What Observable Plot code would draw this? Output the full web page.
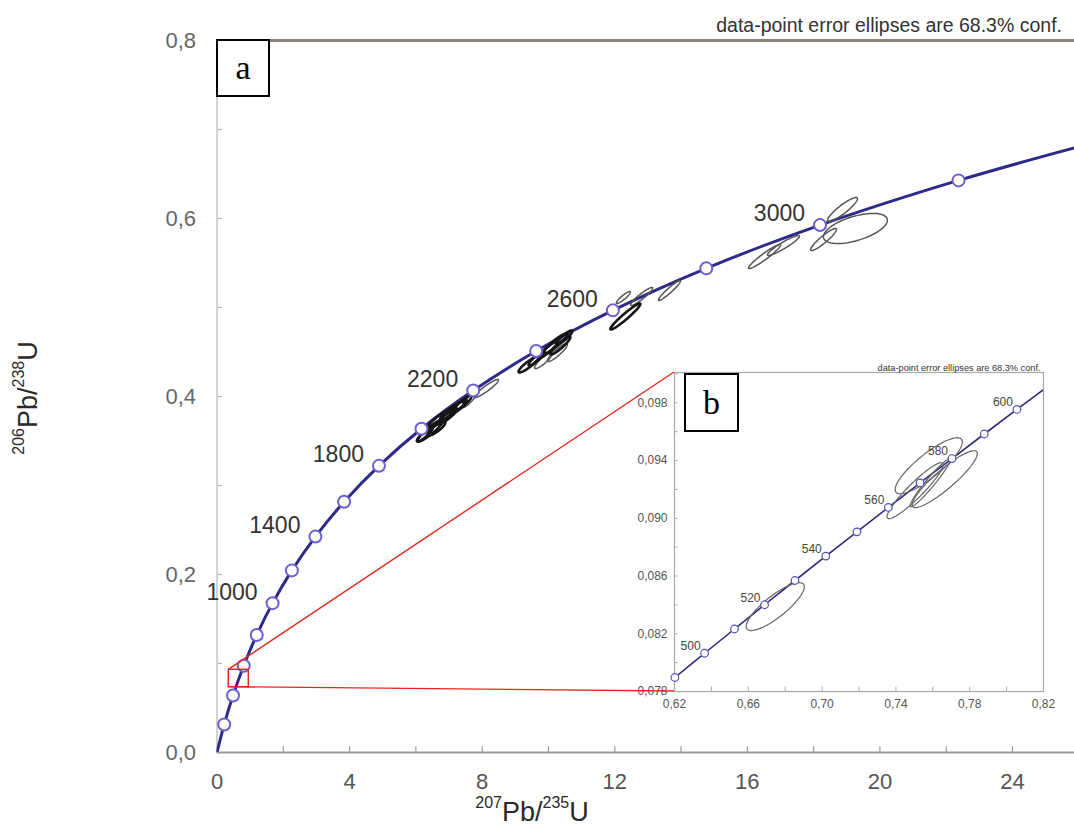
<!DOCTYPE html>
<html><head><meta charset="utf-8">
<script src="https://cdn.jsdelivr.net/npm/d3@7"></script>
<script src="https://cdn.jsdelivr.net/npm/@observablehq/plot@0.6"></script>
<style>
body{margin:0;background:#fff;}
#wrap{position:relative;width:1074px;height:826px;overflow:hidden;font-family:"Liberation Sans",Arial,sans-serif;background:#fff;}
.box{position:absolute;box-sizing:border-box;border:2px solid #000;background:#fff;font-family:"Liberation Serif","Times New Roman",serif;font-size:34px;color:#000;display:flex;align-items:center;justify-content:center;line-height:1;}
.axt{position:absolute;white-space:nowrap;font-size:27px;color:#2a2a2a;line-height:1;}
.axt sup{font-size:16px;vertical-align:top;position:relative;top:-4px;}
</style></head><body><div id="wrap"></div>
<script>
// ---- Main concordia (ages in Ma, every 200 Ma) ----
const mainAges = [200,400,600,800,1000,1200,1400,1600,1800,2000,2200,2400,2600,2800,3000,3200];
const mainX = [0.2177,0.4828,0.8056,1.1987,1.6774,2.2603,2.9701,3.8344,4.8869,6.1685,7.7292,9.6296,11.9437,14.7617,18.1931,22.3716];
const mainY = [0.0315,0.0640,0.0975,0.1321,0.1678,0.2046,0.2426,0.2817,0.3221,0.3638,0.4067,0.4511,0.4968,0.5440,0.5926,0.6428];
const curveHeadX = [0], curveHeadY = [0];
const curveTailX = [26.09], curveTailY = [0.6815];
const mainLabelAges = [1000,1400,1800,2200,2600,3000];

// main error ellipses: centre, sigma x, sigma y, correlation, dark
const ellX   = [6.44,6.74,7.10,7.41,6.62,8.13,7.65,9.40,9.85,10.27,10.21,10.00,10.48,12.32,12.26,12.81,13.65,16.52,17.09,18.87,19.26,18.30,6.27,6.95,7.29,9.64,10.36];
const ellY   = [0.3618,0.3753,0.3843,0.3921,0.3640,0.4090,0.3978,0.4360,0.4404,0.4494,0.4596,0.4528,0.4663,0.4899,0.5112,0.5124,0.5191,0.5573,0.5697,0.6101,0.5888,0.5764,0.3573,0.3775,0.3888,0.4427,0.4573];
const ellSX  = [0.392,0.362,0.362,0.271,0.271,0.362,0.241,0.302,0.271,0.302,0.362,0.271,0.241,0.452,0.211,0.332,0.332,0.483,0.483,0.452,0.965,0.392,0.241,0.302,0.241,0.241,0.302];
const ellSY  = [0.0124,0.0101,0.0101,0.0090,0.0079,0.0101,0.0101,0.0090,0.0090,0.0101,0.0112,0.0090,0.0079,0.0146,0.0067,0.0101,0.0112,0.0135,0.0112,0.0135,0.0169,0.0124,0.0079,0.0090,0.0079,0.0079,0.0101];
const ellRho = [0.92,0.90,0.90,0.90,0.85,0.93,0.90,0.90,0.88,0.90,0.92,0.92,0.90,0.96,0.90,0.93,0.95,0.95,0.93,0.90,0.55,0.92,0.90,0.92,0.88,0.90,0.92];
const ellDark= [1,1,1,1,1,0,0,1,0,0,1,1,1,1,0,0,0,0,0,0,0,0,1,1,1,1,1];

// zoom box drawn in main chart
const zoomBoxX = [0.356, 0.959];
const zoomBoxY = [0.0734, 0.0929];

// main axes
const xTicks = [0,4,8,12,16,20,24];
const xTickMarks = [0,2,4,6,8,10,12,14,16,18,20,22,24];
const yTicks = [0,0.2,0.4,0.6,0.8];
const yTickLabels = ["0,0","0,2","0,4","0,6","0,8"];
const yTickMarks = [0.1,0.2,0.3,0.4,0.5,0.6,0.7];

// ---- Inset concordia (every 10 Ma) ----
const insetAges = [490,500,510,520,530,540,550,560,570,580,590,600];
const insetX = [0.6202,0.6363,0.6525,0.6688,0.6853,0.7020,0.7189,0.7359,0.7531,0.7704,0.7879,0.8056];
const insetY = [0.07897,0.08065,0.08233,0.08401,0.08569,0.08738,0.08906,0.09075,0.09245,0.09414,0.09584,0.09754];
const insetTailX = [0.8235], insetTailY = [0.09925];
const insetLabelAges = [500,520,540,560,580,600];
const insEllX   = [0.6746,0.7578,0.7665,0.7504,0.7586];
const insEllY   = [0.08388,0.09364,0.09271,0.09191,0.09246];
const insEllSX  = [0.01576,0.01821,0.01766,0.01522,0.01087];
const insEllSY  = [0.00166,0.00194,0.00197,0.00194,0.00166];
const insEllRho = [0.83,0.85,0.90,0.93,0.96];
const insXTicks = [0.62,0.66,0.70,0.74,0.78,0.82];
const insXTickLabels = ["0,62","0,66","0,70","0,74","0,78","0,82"];
const insXTickMarks = [0.62,0.64,0.66,0.68,0.70,0.72,0.74,0.76,0.78,0.80,0.82];
const insYTicks = [0.078,0.082,0.086,0.090,0.094,0.098];
const insYTickLabels = ["0,078","0,082","0,086","0,090","0,094","0,098"];
const insYTickMarks = [0.078,0.080,0.082,0.084,0.086,0.088,0.090,0.092,0.094,0.096,0.098,0.100];

const confText = "data-point error ellipses are 68.3% conf.";

// ---- helpers ----
function ellipsePoints(cx, cy, sx, sy, rho, n = 90) {
  const pts = [];
  const k = Math.sqrt(1 - rho * rho);
  for (let i = 0; i <= n; i++) {
    const t = 2 * Math.PI * i / n;
    pts.push({x: cx + sx * Math.cos(t), y: cy + sy * (rho * Math.cos(t) + k * Math.sin(t))});
  }
  return pts;
}
const mainPts = mainAges.map((a, i) => ({age: a, x: mainX[i], y: mainY[i]}));
const curvePts = [...curveHeadX.map((x,i)=>({x, y: curveHeadY[i]})), ...mainPts, ...curveTailX.map((x,i)=>({x, y: curveTailY[i]}))];
const mainLabels = mainPts.filter(d => mainLabelAges.includes(d.age));
const ellipses = ellX.map((cx, i) => ({id: i, dark: ellDark[i], pts: ellipsePoints(cx, ellY[i], ellSX[i], ellSY[i], ellRho[i])}));
const ellDarkPts = ellipses.filter(e => e.dark).flatMap(e => e.pts.map(p => ({...p, id: e.id})));
const ellLightPts = ellipses.filter(e => !e.dark).flatMap(e => e.pts.map(p => ({...p, id: e.id})));

const insPts = insetAges.map((a, i) => ({age: a, x: insetX[i], y: insetY[i]}));
const insCurve = [...insPts, ...insetTailX.map((x,i)=>({x, y: insetTailY[i]}))];
const insLabels = insPts.filter(d => insetLabelAges.includes(d.age));
const insEllPts = insEllX.flatMap((cx, i) => ellipsePoints(cx, insEllY[i], insEllSX[i], insEllSY[i], insEllRho[i]).map(p => ({...p, id: i})));

const FONT = "Liberation Sans, Arial, sans-serif";

// ---- main chart ----
const main = Plot.plot({
  width: 1074, height: 826,
  marginLeft: 216.5, marginRight: 0, marginTop: 40, marginBottom: 74,
  style: {fontFamily: FONT, background: "transparent", overflow: "visible"},
  x: {domain: [0, 25.87], axis: null},
  y: {domain: [0, 0.8], axis: null},
  marks: [
    Plot.ruleX(xTickMarks, {x: d => d, y1: 0, y2: 0.0065, stroke: "#9a9a9a", strokeWidth: 1.2}),
    Plot.ruleY(yTickMarks, {y: d => d, x1: 0, x2: 0.17, stroke: "#b5b5b5", strokeWidth: 1.2}),
    Plot.ruleX([0], {stroke: "#c8c8c8", strokeWidth: 1.6}),
    Plot.ruleY([0], {stroke: "#9a9a9a", strokeWidth: 2}),
    Plot.ruleY([0.8], {stroke: "#8c827a", strokeWidth: 3}),
    Plot.text(xTicks, {x: d => d, y: 0, dy: 29, text: d => String(d), fontSize: 22, fill: "#555"}),
    Plot.text(yTicks, {x: 0, y: d => d, dx: -21, textAnchor: "end", text: (d, i) => yTickLabels[i], fontSize: 22, fill: "#666"}),
    Plot.line(curvePts, {x: "x", y: "y", curve: "catmull-rom", stroke: "#2d2a88", strokeWidth: 3, clip: true}),
    Plot.line(ellLightPts, {x: "x", y: "y", z: "id", stroke: "#555", strokeWidth: 1.5}),
    Plot.line(ellDarkPts, {x: "x", y: "y", z: "id", stroke: "#151515", strokeWidth: 2.6}),
    Plot.dot(mainPts, {x: "x", y: "y", r: 6, fill: "white", stroke: "#6a60d0", strokeWidth: 2}),
    Plot.text(mainLabels, {x: "x", y: "y", text: d => String(d.age), textAnchor: "end", dx: -15, dy: -11, fontSize: 23, fill: "#333"}),
    Plot.rect([0], {x1: zoomBoxX[0], x2: zoomBoxX[1], y1: zoomBoxY[0], y2: zoomBoxY[1], fill: "none", stroke: "#e8241c", strokeWidth: 1.5})
  ]
});

// ---- inset chart ----
const INS_LEFT = 630, INS_TOP = 355;
const inset = Plot.plot({
  width: 430, height: 365,
  marginLeft: 44, marginRight: 17, marginTop: 17, marginBottom: 29,
  style: {fontFamily: FONT, background: "white", overflow: "visible"},
  x: {domain: [0.62, 0.82], axis: null},
  y: {domain: [0.078, 0.1001], axis: null},
  marks: [
    Plot.frame({stroke: "#a8a8a8", strokeWidth: 1.2}),
    Plot.ruleX(insXTickMarks, {x: d => d, y1: 0.078, y2: 0.0783, stroke: "#aaa"}),
    Plot.ruleY(insYTickMarks, {y: d => d, x1: 0.62, x2: 0.622, stroke: "#aaa"}),
    Plot.text(insXTicks, {x: d => d, y: 0.078, dy: 13, text: (d, i) => insXTickLabels[i], fontSize: 12, fill: "#555"}),
    Plot.text(insYTicks, {x: 0.62, y: d => d, dx: -7, textAnchor: "end", text: (d, i) => insYTickLabels[i], fontSize: 12, fill: "#555"}),
    Plot.line(insCurve, {x: "x", y: "y", curve: "catmull-rom", stroke: "#2a2a80", strokeWidth: 1.6, clip: true}),
    Plot.line(insEllPts, {x: "x", y: "y", z: "id", stroke: "#666", strokeWidth: 1.2}),
    Plot.dot(insPts, {x: "x", y: "y", r: 3.8, fill: "white", stroke: "#5050b0", strokeWidth: 1.2}),
    Plot.text(insLabels, {x: "x", y: "y", text: d => String(d.age), textAnchor: "end", dx: -4, dy: -7, fontSize: 12, fill: "#444"}),
    Plot.text([confText], {frameAnchor: "top-right", text: d => d, dy: -8, dx: -3, fontSize: 9.2, fill: "#333"})
  ]
});

const wrap = document.getElementById("wrap");
main.style.position = "absolute"; main.style.left = "0px"; main.style.top = "0px";
wrap.appendChild(main);
inset.style.position = "absolute"; inset.style.left = INS_LEFT + "px"; inset.style.top = INS_TOP + "px";
wrap.appendChild(inset);

// connecting red lines through both charts' scales
const mx = main.scale("x"), my = main.scale("y");
const ix = inset.scale("x"), iy = inset.scale("y");
const ov = d3.create("svg").attr("width", 1074).attr("height", 826)
  .style("position", "absolute").style("left", "0px").style("top", "0px").style("pointer-events", "none");
const lines = [
  [mx.apply(zoomBoxX[0]), my.apply(zoomBoxY[1]), INS_LEFT + ix.apply(0.62), INS_TOP + iy.apply(0.1001)],
  [mx.apply(zoomBoxX[0]), my.apply(zoomBoxY[0]), INS_LEFT + ix.apply(0.62), INS_TOP + iy.apply(0.078)]
];
ov.selectAll("line").data(lines).join("line")
  .attr("x1", d => d[0]).attr("y1", d => d[1]).attr("x2", d => d[2]).attr("y2", d => d[3])
  .attr("stroke", "#e8241c").attr("stroke-width", 1.4);
wrap.appendChild(ov.node());

// texts
function addDiv(html, css, cls) {
  const d = document.createElement("div");
  if (cls) d.className = cls;
  d.innerHTML = html;
  Object.assign(d.style, css);
  wrap.appendChild(d);
  return d;
}
addDiv(confText, {position: "absolute", right: "12px", top: "15px", fontSize: "19.5px", lineHeight: "20px", color: "#333", whiteSpace: "nowrap"});
addDiv("a", {left: "216px", top: "39px", width: "54px", height: "58px"}, "box");
addDiv("b", {left: "684px", top: "373px", width: "55px", height: "59px"}, "box");
addDiv("<sup>207</sup>Pb/<sup>235</sup>U", {left: "532px", top: "812px", transform: "translate(-50%,-50%)"}, "axt");
addDiv("<sup>206</sup>Pb/<sup>238</sup>U", {left: "28px", top: "398px", transform: "translate(-50%,-50%) rotate(-90deg)"}, "axt");
</script></body></html>
